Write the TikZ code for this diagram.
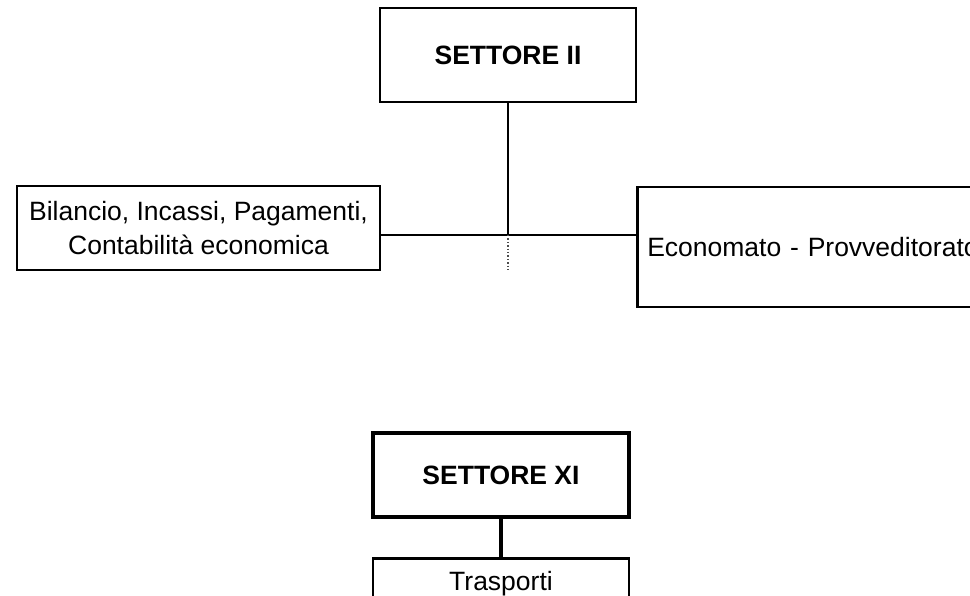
\documentclass[tikz,border=0pt]{standalone}
\usepackage{fontspec}
\setmainfont{Liberation Sans}
\usetikzlibrary{positioning}
\tikzstyle{box}=[rectangle, draw, line width=2.5pt, inner sep=0pt, font=\fontsize{26.5}{34}\selectfont]
\tikzstyle{link}=[line width=1.6pt]

\begin{document}
\begin{tikzpicture}[x=1pt, y=-1pt]
\useasboundingbox (0,0) rectangle (970,596);
\node [box, minimum width=256, minimum height=94, font=\fontsize{26.5}{34}\selectfont\bfseries] (s2) at (508,55) {SETTORE II};
\node [box, minimum width=363, minimum height=84, align=center] (bil) at (198.5,228) {Bilancio, Incassi, Pagamenti,\\Contabilità economica};
\node [box, anchor=north west, minimum width=400, minimum height=120, text width=380, inner xsep=9, align=left] (eco) at (636,186) {Economato - Provveditorato};
\coordinate (j) at (508,235); \coordinate (jd) at (508,270);
\draw [link] (s2) -- (j);
\draw [link] (j -| bil.east) -- (j -| eco.west);
%\draw [link] (bil.east) -- (eco.west);
\draw [line width=1.4pt, dotted, black!70] (j) -- (jd);
\node [box, line width=3.3pt, minimum width=256, minimum height=84, font=\fontsize{26.5}{34}\selectfont\bfseries] (s11) at (501,475) {SETTORE XI};
\node [box, line width=2.5pt, anchor=north, minimum width=256, inner ysep=12, text height=20, text depth=20] (tr) at (501,557) {Trasporti};
\draw [line width=3.3pt] (s11) -- (tr);
\end{tikzpicture}
\end{document}
